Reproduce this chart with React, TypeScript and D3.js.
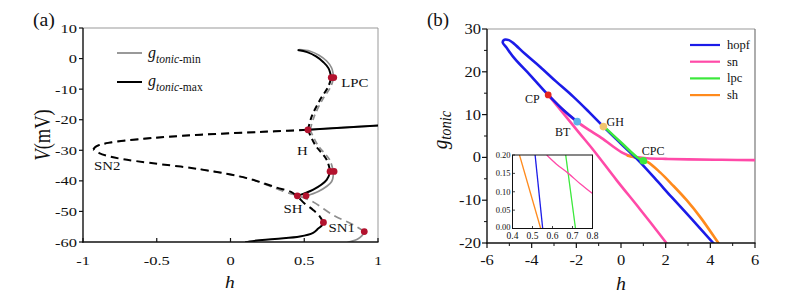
import React from "react";
import * as d3 from "d3";

type P = [number, number];

// ---------------- Panel (a) data ----------------
const aXTicks = [-1, -0.5, 0, 0.5, 1];
const aYTicks = [10, 0, -10, -20, -30, -40, -50, -60];

// equilibrium curve, g_tonic-max (black)
const eqMaxLowStable: P[] = [[0.1, -60.1], [0.13, -59.8], [0.3, -59.0], [0.47, -58.2], [0.56, -57.0], [0.595, -55.6], [0.62, -54.6], [0.63, -53.6]];
const eqMaxMiddle: P[] = [[0.63, -53.6], [0.6, -51.3], [0.56, -49.5], [0.5, -47.3], [0.455, -45.2], [0.41, -43.6], [0.313, -42.2], [0.11, -39.1], [-0.207, -36.2], [-0.55, -34.1], [-0.73, -32.9], [-0.82, -32.0], [-0.89, -30.9], [-0.93, -29.7]];
const eqUpperUnstable: P[] = [[-0.93, -29.7], [-0.91, -28.7], [-0.82, -27.5], [-0.6, -26.3], [-0.43, -25.6], [-0.2, -24.9], [0.1, -24.2], [0.3, -23.8], [0.525, -23.3]];
const eqUpperStable: P[] = [[0.525, -23.3], [0.75, -22.6], [1.02, -21.85]];
// equilibrium curve, g_tonic-min (grey)
const eqMinLowStable: P[] = [[0.78, -60.4], [0.82, -59.8], [0.86, -59.1], [0.89, -58.0], [0.907, -56.6]];
const eqMinMiddle: P[] = [[0.907, -56.6], [0.833, -54.4], [0.697, -51.2], [0.54, -46.4], [0.357, -43.4], [0.11, -39.1], [-0.207, -36.2]];

// periodic orbit branches, g_tonic-max (black)
const pocMaxUpperUnstable: P[] = [[0.525, -23.3], [0.55, -19.0], [0.607, -13.5], [0.663, -9.2], [0.683, -6.2]];
const pocMaxUpperStable: P[] = [[0.683, -6.2], [0.665, -3.2], [0.63, -1.2], [0.58, 0.7], [0.52, 2.1], [0.455, 2.8]];
const pocMaxLowerUnstable: P[] = [[0.525, -23.3], [0.573, -28.2], [0.652, -33.1], [0.676, -36.9]];
const pocMaxLowerStable: P[] = [[0.676, -36.9], [0.652, -39.7], [0.561, -42.9], [0.453, -44.9]];
// periodic orbit branches, g_tonic-min (grey)
const pocMinUpperUnstable: P[] = [[0.54, -23.3], [0.567, -19.0], [0.623, -13.5], [0.68, -9.2], [0.7, -6.2]];
const pocMinUpperStable: P[] = [[0.7, -6.2], [0.685, -3.0], [0.652, -0.8], [0.6, 1.1], [0.54, 2.4], [0.465, 2.9]];
const pocMinLowerUnstable: P[] = [[0.54, -23.3], [0.59, -28.2], [0.672, -33.1], [0.697, -36.9]];
const pocMinLowerStable: P[] = [[0.697, -36.9], [0.686, -40.2], [0.595, -43.5], [0.512, -44.9]];

const aMarkers: P[] = [[0.683, -6.2], [0.7, -6.2], [0.525, -23.3], [0.675, -36.9], [0.702, -36.9], [0.453, -44.9], [0.512, -44.9], [0.63, -53.6], [0.907, -56.6]];
const aLabels = ["LPC", "H", "SN2", "SH", "SN1"];
const aLabelAt: P[] = [[0.75, -9.3], [0.45, -31.5], [-0.925, -36.3], [0.36, -50.6], [0.665, -56.6]];

// ---------------- Panel (b) data ----------------
const bXTicks = [-6, -4, -2, 0, 2, 4, 6];
const bXMinor = [-5, -3, -1, 1, 3, 5];
const bYTicks = [30, 20, 10, 0, -10, -20];
const bYMinor = [25, 15, 5, -5, -15];

const hopf: P[] = [[-1.96, 8.35], [-2.58, 11.07], [-3.26, 14.6], [-4.07, 19.25], [-4.75, 23.0], [-5.12, 25.6], [-5.3, 26.9], [-5.22, 27.5], [-5.02, 27.4], [-4.82, 26.7], [-4.3, 24.2], [-3.63, 21.2], [-2.9, 17.7], [-2.14, 14.2], [-1.45, 10.7], [-0.79, 7.2], [0, 3.2], [0.7, -0.3], [1.5, -4.8], [2.27, -9.3], [3.2, -14.6], [4.13, -20], [4.3, -21]];
const snSteep: P[] = [[-3.26, 14.6], [-2.6, 10.4], [-1.9, 5.9], [-1.24, 1.73], [-0.2, -5.3], [0.85, -12.1], [2.05, -20.1], [2.2, -21.1]];
const snShallow: P[] = [[-3.26, 14.6], [-2.58, 11.0], [-1.96, 8.3], [-1.4, 6.3], [-0.94, 4.8], [-0.34, 2.5], [0.1, 1.0], [0.45, 0.25], [0.75, 0.0], [1.15, -0.2], [2.0, -0.35], [3.0, -0.45], [4.5, -0.55], [6.2, -0.65]];
const lpc: P[] = [[-0.76, 7.2], [0.04, 3.3], [0.75, -0.1], [1.1, -1.2]];
const sh: P[] = [[0.3, 0.4], [0.8, -0.25], [1.2, -1.1], [1.75, -3.5], [2.3, -6.4], [2.94, -10], [3.6, -14.3], [4.36, -20], [4.5, -21]];
const bMarkers: P[] = [[-3.26, 14.6], [-1.96, 8.35], [-0.79, 7.2], [1.0, -0.8]];
const bLabels = ["CP", "BT", "GH", "CPC"];
const bLabelAt: P[] = [[-4.3, 12.7], [-2.95, 5.1], [-0.65, 7.3], [0.93, 0.55]];

const legendNames = ["hopf", "sn", "lpc", "sh"];

const insetXTicks = [0.4, 0.5, 0.6, 0.7, 0.8];
const insetYTicks = [0, 0.05, 0.1, 0.15, 0.2];
const insetOrange: P[] = [[0.435, 0.2], [0.541, 0]];
const insetBlue: P[] = [[0.513, 0.2], [0.551, 0]];
const insetGreen: P[] = [[0.666, 0.2], [0.715, 0]];
const insetPink: P[] = [[0.571, 0.2], [0.62, 0.175], [0.679, 0.15], [0.74, 0.121], [0.8, 0.095]];

// ---------------- styles ----------------
const FONT = "'Liberation Serif', 'Times New Roman', Times, serif";
const C = {
  blue: "#1b1be8",
  pink: "#ff4aa8",
  green: "#3ce83c",
  orange: "#ff8a1c",
  red: "#b3122e",
  grey: "#8e8e8e",
  cp: "#e4261e",
  bt: "#5cb3ea",
  gh: "#f1c46e",
  cpc: "#3ce83c",
};
const legendColors = [C.blue, C.pink, C.green, C.orange];
const bMarkerColors = [C.cp, C.bt, C.gh, C.cpc];

function T({ x, y, sx = 1, size, anchor = "start", italic = false, children }: any) {
  return (
    <g transform={`translate(${x},${y}) scale(${sx},1)`}>
      <text fontFamily={FONT} fontSize={size} textAnchor={anchor} fontStyle={italic ? "italic" : "normal"} fill="#111">
        {children}
      </text>
    </g>
  );
}

export default function App() {
  // panel (a) scales
  const ax = d3.scaleLinear().domain([-1, 1]).range([83, 378]);
  const ay = d3.scaleLinear().domain([-60, 10]).range([242, 28]);
  // panel (b) scales
  const bx = d3.scaleLinear().domain([-6, 6]).range([487, 755]);
  const by = d3.scaleLinear().domain([-20, 30]).range([243, 29]);
  // inset scales
  const ix = d3.scaleLinear().domain([0.4, 0.8]).range([512.5, 592.5]);
  const iy = d3.scaleLinear().domain([0, 0.2]).range([228.5, 155]);

  const mk = (sx: any, sy: any) =>
    d3.line<P>().x((d) => sx(d[0])).y((d) => sy(d[1])).curve(d3.curveCatmullRom.alpha(0.5));
  const la = mk(ax, ay);
  const lb = mk(bx, by);
  const li = mk(ix, iy);

  const dash = "8,5";

  return (
    <svg width={797} height={303} style={{ position: "absolute", left: 0, top: 0, background: "#fff" }}>
      <defs>
        <clipPath id="clipA"><rect x={83} y={28} width={295} height={214} /></clipPath>
        <clipPath id="clipB"><rect x={487} y={29} width={268} height={214} /></clipPath>
        <clipPath id="clipI"><rect x={512.5} y={155} width={80} height={73.5} /></clipPath>
      </defs>
      <rect x={0} y={0} width={797} height={303} fill="#fff" />

      {/* ================= Panel (a) ================= */}
      <T x={33} y={26} size={18} sx={1.1}>(a)</T>
      <line x1={83} y1={28} x2={378} y2={28} stroke="#999" strokeWidth={1} />
      <line x1={378} y1={28} x2={378} y2={242} stroke="#999" strokeWidth={1} />
      <g clipPath="url(#clipA)" fill="none" strokeLinecap="butt">
        {/* grey (min) */}
        <path d={la(eqMinLowStable)!} stroke={C.grey} strokeWidth={1.7} />
        <path d={la(eqMinMiddle)!} stroke={C.grey} strokeWidth={1.7} strokeDasharray={dash} />
        <path d={la(eqUpperUnstable)!} stroke={C.grey} strokeWidth={1.7} strokeDasharray={dash} />
        <path d={la(eqUpperStable)!} stroke={C.grey} strokeWidth={1.7} />
        <path d={la(pocMinUpperUnstable)!} stroke={C.grey} strokeWidth={1.7} strokeDasharray="6,4" />
        <path d={la(pocMinUpperStable)!} stroke={C.grey} strokeWidth={1.7} />
        <path d={la(pocMinLowerUnstable)!} stroke={C.grey} strokeWidth={1.7} strokeDasharray="6,4" />
        <path d={la(pocMinLowerStable)!} stroke={C.grey} strokeWidth={1.7} />
        {/* black (max) */}
        <path d={la(eqMaxLowStable)!} stroke="#000" strokeWidth={2} />
        <path d={la(eqMaxMiddle)!} stroke="#000" strokeWidth={2} strokeDasharray={dash} />
        <path d={la(eqUpperUnstable)!} stroke="#000" strokeWidth={2} strokeDasharray={dash} />
        <path d={la(eqUpperStable)!} stroke="#000" strokeWidth={2} />
        <path d={la(pocMaxUpperUnstable)!} stroke="#000" strokeWidth={2} strokeDasharray="6,4" />
        <path d={la(pocMaxUpperStable)!} stroke="#000" strokeWidth={2} />
        <path d={la(pocMaxLowerUnstable)!} stroke="#000" strokeWidth={2} strokeDasharray="6,4" />
        <path d={la(pocMaxLowerStable)!} stroke="#000" strokeWidth={2} />
      </g>
      {aMarkers.map((d, i) => (
        <circle key={i} cx={ax(d[0])} cy={ay(d[1])} r={3.4} fill={C.red} />
      ))}
      {aLabels.map((s, i) => (
        <T key={s} x={ax(aLabelAt[i][0])} y={ay(aLabelAt[i][1])} size={13.5} sx={1.1}>{s}</T>
      ))}
      {/* legend (a) */}
      <line x1={117} y1={53} x2={142} y2={53} stroke={C.grey} strokeWidth={1.8} />
      <line x1={117} y1={82} x2={142} y2={82} stroke="#000" strokeWidth={2} />
      <text x={148} y={58} fontFamily={FONT} fontSize={16} fontStyle="italic" fill="#111">
        g<tspan fontSize={11.5} dy={4.5}>tonic</tspan><tspan fontStyle="normal" fontSize={11.5}>-min</tspan>
      </text>
      <text x={148} y={86} fontFamily={FONT} fontSize={16} fontStyle="italic" fill="#111">
        g<tspan fontSize={11.5} dy={4.5}>tonic</tspan><tspan fontStyle="normal" fontSize={11.5}>-max</tspan>
      </text>
      {/* axes (a) */}
      <line x1={83} y1={28} x2={83} y2={242.7} stroke="#111" strokeWidth={1.4} />
      <line x1={82.3} y1={242} x2={378.5} y2={242} stroke="#111" strokeWidth={1.4} />
      {aYTicks.map((t) => (
        <g key={t}>
          <line x1={79} y1={ay(t)} x2={83} y2={ay(t)} stroke="#111" strokeWidth={1.2} />
          <T x={77} y={ay(t) + 4.6} size={13.5} sx={1.22} anchor="end">{String(t)}</T>
        </g>
      ))}
      {aXTicks.map((t) => (
        <g key={t}>
          <line x1={ax(t)} y1={242} x2={ax(t)} y2={238} stroke="#111" strokeWidth={1.2} />
          <T x={ax(t)} y={265} size={13.5} sx={1.22} anchor="middle">{String(t)}</T>
        </g>
      ))}
      <T x={230} y={288} size={17} sx={1.15} anchor="middle" italic>h</T>
      <g transform="translate(50,135) rotate(-90) scale(1,1.2)">
        <text fontFamily={FONT} fontSize={18.5} textAnchor="middle" fill="#111">
          <tspan fontStyle="italic">V</tspan>(mV)
        </text>
      </g>

      {/* ================= Panel (b) ================= */}
      <T x={427} y={26} size={18} sx={1.05}>(b)</T>
      <line x1={487} y1={29} x2={755} y2={29} stroke="#999" strokeWidth={1} />
      <line x1={755} y1={29} x2={755} y2={243} stroke="#777" strokeWidth={1.2} />
      <g clipPath="url(#clipB)" fill="none" strokeLinecap="round">
        <path d={lb(snSteep)!} stroke={C.pink} strokeWidth={2.6} />
        <path d={lb(snShallow)!} stroke={C.pink} strokeWidth={2.6} />
        <path d={lb(sh)!} stroke={C.orange} strokeWidth={2.6} />
        <path d={lb(hopf)!} stroke={C.blue} strokeWidth={2.6} />
        <path d={lb(lpc)!} stroke={C.green} strokeWidth={2.6} />
      </g>
      {bMarkers.map((d, i) => (
        <circle key={i} cx={bx(d[0])} cy={by(d[1])} r={i === 0 ? 3.4 : 3.8} fill={bMarkerColors[i]} />
      ))}
      {bLabels.map((s, i) => (
        <T key={s} x={bx(bLabelAt[i][0])} y={by(bLabelAt[i][1])} size={12}>{s}</T>
      ))}
      {/* legend (b) */}
      {legendNames.map((n, i) => (
        <g key={n}>
          <line x1={690} y1={45 + i * 16.7} x2={720} y2={45 + i * 16.7} stroke={legendColors[i]} strokeWidth={2.2} />
          <T x={727} y={49 + i * 16.7} size={12.5}>{n}</T>
        </g>
      ))}
      {/* axes (b) */}
      <line x1={487} y1={29} x2={487} y2={243.7} stroke="#111" strokeWidth={1.4} />
      <line x1={486.3} y1={243} x2={755.5} y2={243} stroke="#111" strokeWidth={1.4} />
      {bYTicks.map((t) => (
        <g key={t}>
          <line x1={482} y1={by(t)} x2={487} y2={by(t)} stroke="#111" strokeWidth={1.2} />
          <T x={481} y={by(t) + 5} size={15} sx={1.1} anchor="end">{String(t)}</T>
        </g>
      ))}
      {bYMinor.map((t) => (
        <line key={t} x1={484} y1={by(t)} x2={487} y2={by(t)} stroke="#111" strokeWidth={1} />
      ))}
      {bXTicks.map((t) => (
        <g key={t}>
          <line x1={bx(t)} y1={243} x2={bx(t)} y2={248} stroke="#111" strokeWidth={1.2} />
          <T x={bx(t)} y={265} size={15} sx={1.1} anchor="middle">{String(t)}</T>
        </g>
      ))}
      {bXMinor.map((t) => (
        <line key={t} x1={bx(t)} y1={243} x2={bx(t)} y2={246} stroke="#111" strokeWidth={1} />
      ))}
      <T x={621} y={290} size={18} sx={1.1} anchor="middle" italic>h</T>
      <g transform="translate(447,130) rotate(-90) scale(1,1.1)">
        <text fontFamily={FONT} fontSize={19} textAnchor="middle" fontStyle="italic" fill="#111">
          g<tspan fontSize={14.5} dy={4}>tonic</tspan>
        </text>
      </g>

      {/* inset */}
      <rect x={512.5} y={155} width={80} height={73.5} fill="#fff" />
      <g clipPath="url(#clipI)" fill="none">
        <path d={li(insetOrange)!} stroke={C.orange} strokeWidth={1.3} />
        <path d={li(insetBlue)!} stroke={C.blue} strokeWidth={1.3} />
        <path d={li(insetGreen)!} stroke={C.green} strokeWidth={1.3} />
        <path d={li(insetPink)!} stroke={C.pink} strokeWidth={1.3} />
      </g>
      <rect x={512.5} y={155} width={80} height={73.5} fill="none" stroke="#111" strokeWidth={1} />
      {insetYTicks.map((t) => (
        <g key={t}>
          <line x1={512.5} y1={iy(t)} x2={515} y2={iy(t)} stroke="#111" strokeWidth={0.8} />
          <T x={510.5} y={iy(t) + (t === 0 ? 1.5 : 3)} size={8.5} anchor="end">{d3.format(".2f")(t)}</T>
        </g>
      ))}
      {insetXTicks.map((t) => (
        <g key={t}>
          <line x1={ix(t)} y1={228.5} x2={ix(t)} y2={226} stroke="#111" strokeWidth={0.8} />
          <T x={ix(t)} y={239} size={9.5} anchor="middle">{d3.format(".1f")(t)}</T>
        </g>
      ))}
    </svg>
  );
}
